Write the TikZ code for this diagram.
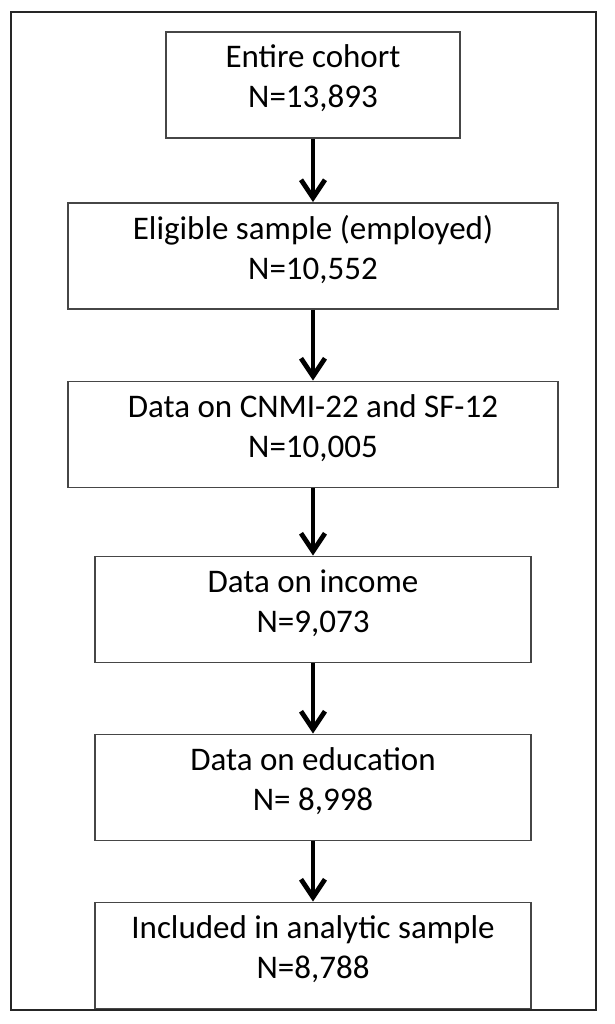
\documentclass[tikz,border=0pt]{standalone}
\usepackage{fontspec}
\setmainfont{Carlito}
\usepackage{tikz}
\usetikzlibrary{arrows.meta}
\definecolor{cBox}{RGB}{70,70,70}
\newcommand{\lowstrut}{\rule[-8.5pt]{0pt}{8.5pt}}

\begin{document}
\begin{tikzpicture}[x=0.5pt,y=-0.5pt,
  stagebox/.style={draw=cBox,line width=0.9pt,align=center,inner sep=0pt,
    minimum height=53pt,font=\fontsize{16.5}{20}\selectfont},
  flowarrow/.style={line width=2.4pt,-{Straight Barb[length=9pt,width=12pt]}}]
\useasboundingbox (0,0) rectangle (615,1024);
\draw[line width=0.8pt,black!85] (11,12) rectangle (596,1010);
\node[stagebox,minimum width=147pt] (cohort) at (313,85) {Entire cohort\\N=13,893\lowstrut};
\node[stagebox,minimum width=245pt] (eligible) at (313,256) {Eligible sample (employed)\\N=10,552\lowstrut};
\node[stagebox,minimum width=245pt] (cnmi) at (313,434.5) {Data on CNMI-22 and SF-12\\N=10,005\lowstrut};
\node[stagebox,minimum width=218pt] (income) at (313,609.5) {Data on income\\N=9,073\lowstrut};
\node[stagebox,minimum width=218pt] (education) at (313,787.5) {Data on education\\N= 8,998\lowstrut};
\node[stagebox,minimum width=218pt] (analytic) at (313,955.5) {Included in analytic sample\\N=8,788\lowstrut};
\draw[flowarrow] (cohort) -- (eligible);
\draw[flowarrow] (eligible) -- (cnmi);
\draw[flowarrow] (cnmi) -- (income);
\draw[flowarrow] (income) -- (education);
\draw[flowarrow] (education) -- (analytic);
\end{tikzpicture}
\end{document}
